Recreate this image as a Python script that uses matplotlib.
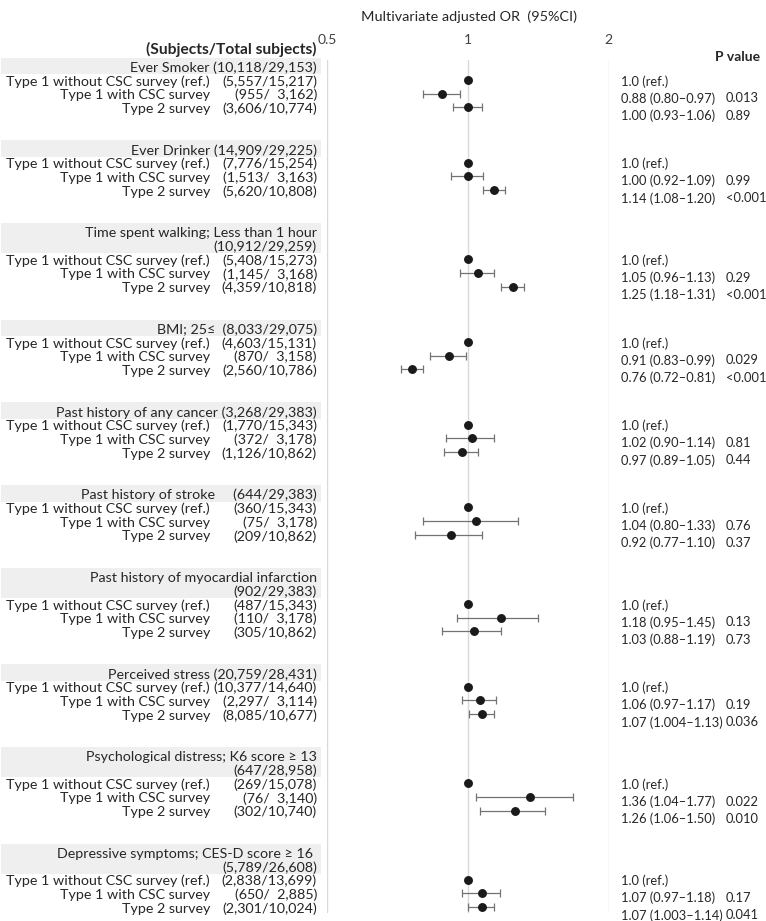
import numpy as np
import matplotlib
matplotlib.use('Agg')
import matplotlib.pyplot as plt
from matplotlib.patches import Rectangle
from matplotlib.ticker import NullLocator
from matplotlib.transforms import blended_transform_factory

plt.rcParams['font.family'] = ['Lato', 'DejaVu Sans']

# -----------------------------------------------------------------------
# Data
# -----------------------------------------------------------------------
factors = [
    'Ever Smoker',
    'Ever Drinker',
    'Time spent walking; Less than 1 hour',
    'BMI; 25\u2264 ',
    'Past history of any cancer',
    'Past history of stroke    ',
    'Past history of myocardial infarction',
    'Perceived stress',
    'Psychological distress; K6 score \u2265 13',
    'Depressive symptoms; CES-D score \u2265 16 ',
]
factor_counts = [
    '(10,118/29,153)', '(14,909/29,225)', '(10,912/29,259)', '(8,033/29,075)',
    '(3,268/29,383)', '(644/29,383)', '(902/29,383)', '(20,759/28,431)',
    '(647/28,958)', '(5,789/26,608)',
]
two_line_headers = [2, 6, 8, 9]

groups = ['Type 1 without CSC survey (ref.)', 'Type 1 with CSC survey', 'Type 2 survey']

counts = [
    ['(5,557/15,217)', '(955/  3,162)', '(3,606/10,774)'],
    ['(7,776/15,254)', '(1,513/  3,163)', '(5,620/10,808)'],
    ['(5,408/15,273)', '(1,145/  3,168)', '(4,359/10,818)'],
    ['(4,603/15,131)', '(870/  3,158)', '(2,560/10,786)'],
    ['(1,770/15,343)', '(372/  3,178)', '(1,126/10,862)'],
    ['(360/15,343)', '(75/  3,178)', '(209/10,862)'],
    ['(487/15,343)', '(110/  3,178)', '(305/10,862)'],
    ['(10,377/14,640)', '(2,297/  3,114)', '(8,085/10,677)'],
    ['(269/15,078)', '(76/  3,140)', '(302/10,740)'],
    ['(2,838/13,699)', '(650/  2,885)', '(2,301/10,024)'],
]

odds = [
    [1.0, 0.88, 1.00], [1.0, 1.00, 1.14], [1.0, 1.05, 1.25], [1.0, 0.91, 0.76],
    [1.0, 1.02, 0.97], [1.0, 1.04, 0.92], [1.0, 1.18, 1.03], [1.0, 1.06, 1.07],
    [1.0, 1.36, 1.26], [1.0, 1.07, 1.07],
]
# whisker ends as drawn in the figure
ci_low = [
    [np.nan, 0.80, 0.93], [np.nan, 0.92, 1.08], [np.nan, 0.96, 1.18], [np.nan, 0.83, 0.72],
    [np.nan, 0.90, 0.89], [np.nan, 0.80, 0.77], [np.nan, 0.95, 0.88], [np.nan, 0.97, 1.004],
    [np.nan, 1.04, 1.06], [np.nan, 0.97, 1.003],
]
ci_high = [
    [np.nan, 0.96, 1.07], [np.nan, 1.08, 1.20], [np.nan, 1.14, 1.32], [np.nan, 0.99, 0.80],
    [np.nan, 1.14, 1.05], [np.nan, 1.28, 1.07], [np.nan, 1.41, 1.18], [np.nan, 1.15, 1.136],
    [np.nan, 1.68, 1.46], [np.nan, 1.17, 1.137],
]

or_text = [
    ['1.0 (ref.)', '0.88 (0.80\u20130.97)', '1.00 (0.93\u20131.06)'],
    ['1.0 (ref.)', '1.00 (0.92\u20131.09)', '1.14 (1.08\u20131.20)'],
    ['1.0 (ref.)', '1.05 (0.96\u20131.13)', '1.25 (1.18\u20131.31)'],
    ['1.0 (ref.)', '0.91 (0.83\u20130.99)', '0.76 (0.72\u20130.81)'],
    ['1.0 (ref.)', '1.02 (0.90\u20131.14)', '0.97 (0.89\u20131.05)'],
    ['1.0 (ref.)', '1.04 (0.80\u20131.33)', '0.92 (0.77\u20131.10)'],
    ['1.0 (ref.)', '1.18 (0.95\u20131.45)', '1.03 (0.88\u20131.19)'],
    ['1.0 (ref.)', '1.06 (0.97\u20131.17)', '1.07 (1.004\u20131.13)'],
    ['1.0 (ref.)', '1.36 (1.04\u20131.77)', '1.26 (1.06\u20131.50)'],
    ['1.0 (ref.)', '1.07 (0.97\u20131.18)', '1.07 (1.003\u20131.14)'],
]
p_text = [
    ['', '0.013', '0.89'], ['', '0.99', '<0.001'], ['', '0.29', '<0.001'],
    ['', '0.029', '<0.001'], ['', '0.81', '0.44'], ['', '0.76', '0.37'],
    ['', '0.13', '0.73'], ['', '0.19', '0.036'], ['', '0.022', '0.010'],
    ['', '0.17', '0.041'],
]

x_ticks = [0.5, 1, 2]
x_tick_labels = ['0.5', '1', '2']

# -----------------------------------------------------------------------
# Layout (pixels from the top of the figure)
# -----------------------------------------------------------------------
W, H = 766, 921
PITCH = 13.75
GAP = 41.5
TXT_COL = '#262626'
FS_LEFT = 10.3
FS_RIGHT = 9.3

header_y, row_y = [], []
y = 67.5
for i in range(len(factors)):
    header_y.append(y)
    nlines = 2 if i in two_line_headers else 1
    rows = [y + PITCH * (nlines + k) for k in range(len(groups))]
    row_y.append(rows)
    y = rows[-1] + GAP

fig = plt.figure(figsize=(W / 100, H / 100), dpi=100)
ax = fig.add_axes([327 / W, 1 - 913 / H, (608.7 - 327) / W, (913 - 60) / H])
ax.set_xscale('log', base=2)
ax.set_xlim(0.5, 2)
ax.set_ylim(913, 60)
for s in ax.spines.values():
    s.set_visible(False)
ax.set_yticks([])
ax.xaxis.tick_top()
ax.set_xticks(x_ticks, x_tick_labels)
ax.xaxis.set_minor_locator(NullLocator())
ax.tick_params(axis='x', length=0, pad=10, labelsize=10, labelcolor='#404040')
for t in x_ticks:
    ax.axvline(t, color='#d9d9d9', lw=1, zorder=0)

blend = blended_transform_factory(fig.transFigure, ax.transData)


def put(xpx, ypx, s, ha='right', fontsize=FS_LEFT, **kw):
    ax.text(xpx / W, ypx, s, transform=blend, ha=ha, va='center',
            fontsize=fontsize, color=kw.pop('color', TXT_COL), **kw)


# header row backgrounds + labels
for i, name in enumerate(factors):
    yh = header_y[i]
    if i in two_line_headers:
        put(317, yh, name)
        put(317, yh + PITCH, factor_counts[i])
        bottom = yh + PITCH + 6.5
    else:
        put(317, yh, f'{name} {factor_counts[i]}')
        bottom = yh + 6.5
    ax.add_patch(Rectangle((1 / W, yh - 10), 320 / W, bottom - (yh - 10),
                           transform=blend, facecolor='#efefef',
                           edgecolor='none', clip_on=False, zorder=0))

    for k, g in enumerate(groups):
        put(210, row_y[i][k], g)
        put(317, row_y[i][k], counts[i][k])
        put(621, row_y[i][0] + 17.2 * k, or_text[i][k], ha='left',
            fontsize=FS_RIGHT)
        if p_text[i][k]:
            put(726, row_y[i][0] + 17.2 * k, p_text[i][k], ha='left',
                fontsize=FS_RIGHT)

# markers and whiskers
for i in range(len(factors)):
    yy = np.array(row_y[i]) - 1.5
    orv = np.array(odds[i])
    lo = np.array(ci_low[i])
    hi = np.array(ci_high[i])
    has_ci = ~np.isnan(lo)
    ax.errorbar(orv[has_ci], yy[has_ci],
                xerr=[orv[has_ci] - lo[has_ci], hi[has_ci] - orv[has_ci]],
                fmt='none', ecolor='#737373', elinewidth=0.9, capsize=2.6,
                capthick=0.9, zorder=2)
    ax.plot(orv, yy, 'o', color='#1a1a1a', markersize=5.4, zorder=3)

put(469, 17, 'Multivariate adjusted OR  (95%CI)', ha='center', fontsize=10.4)
put(316, 49, '(Subjects/Total subjects)', fontsize=11.2, fontweight='bold')
put(760, 57, 'P value', fontsize=10, fontweight='bold')

fig.savefig('out.png', dpi=100)
